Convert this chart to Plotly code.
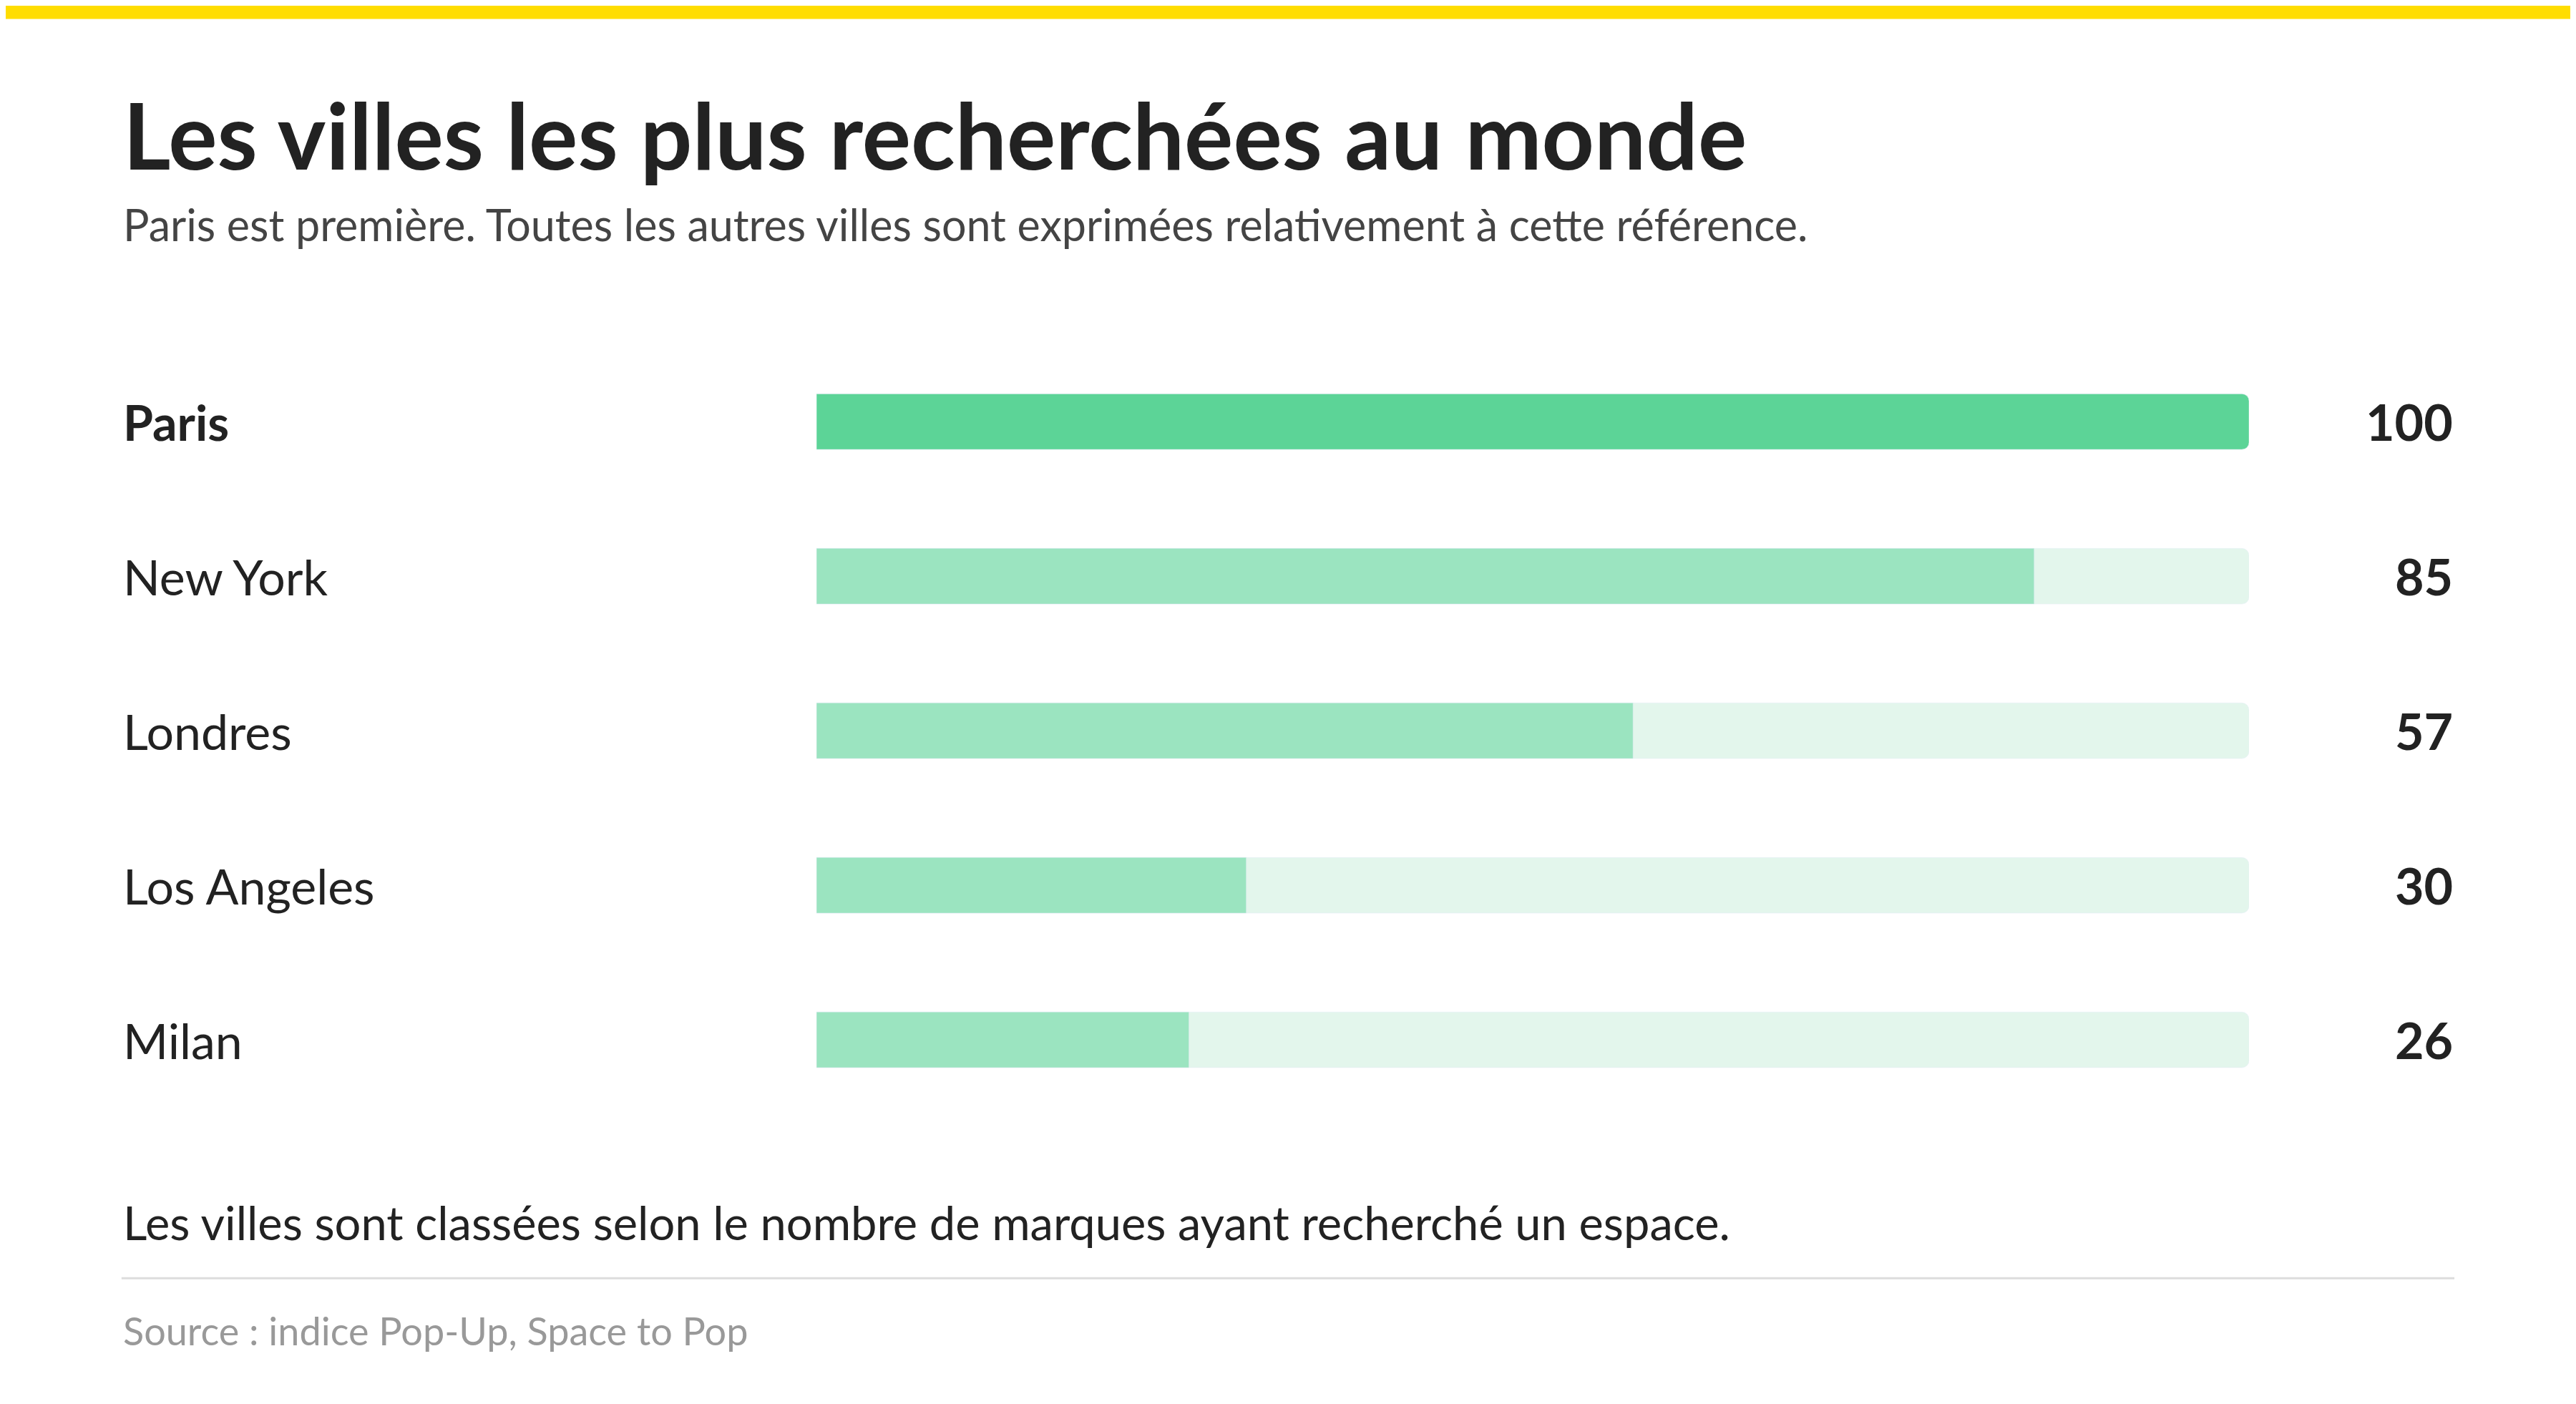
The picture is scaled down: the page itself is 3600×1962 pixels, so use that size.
import plotly.graph_objects as go

cities = ["Paris", "New York", "Londres", "Los Angeles", "Milan"]
values = [100, 85, 57, 30, 26]
bar_colors = ["#5cd497", "#9be4c0", "#9be4c0", "#9be4c0", "#9be4c0"]

H = 854.0
def fy(px):
    return 1 - (px - 4) / H
def fx(px):
    return (px - 3.5) / 1568.0

fig = go.Figure()
fig.add_trace(go.Bar(x=[100] * len(cities), y=cities, orientation="h",
                     marker=dict(color="#e3f6ec", cornerradius=10),
                     width=0.36, hoverinfo="skip"))
fig.add_trace(go.Bar(x=values, y=cities, orientation="h",
                     marker=dict(color=bar_colors, cornerradius=10),
                     width=0.36))

font = "Lato"
for i, (c, v) in enumerate(zip(cities, values)):
    fig.add_annotation(x=fx(74), xref="paper", y=c, yref="y", text=("<b>%s</b>" % c) if i == 0 else c,
                       showarrow=False, xanchor="left", yanchor="middle",
                       font=dict(family=font, size=68, color="#222"))
    fig.add_annotation(x=fx(1494), xref="paper", y=c, yref="y", text="<b>%d</b>" % v,
                       showarrow=False, xanchor="right", yanchor="middle",
                       font=dict(family=font, size=70, color="#222"))

texts = [
    ("<b>Les villes les plus recherchées au monde</b>", 82, 128, "#222"),
    ("Paris est première. Toutes les autres villes sont exprimées relativement à cette référence.", 137, 61, "#444"),
    ("Les villes sont classées selon le nombre de marques ayant recherché un espace.", 744, 65, "#222"),
    ("Source : indice Pop-Up, Space to Pop", 810, 54, "#999"),
]
for t, y, s, col in texts:
    fig.add_annotation(x=fx(74), xref="paper", y=fy(y), yref="paper", text=t, showarrow=False,
                       xanchor="left", yanchor="middle", font=dict(family=font, size=s, color=col))

fig.add_shape(type="rect", xref="paper", yref="paper", x0=0, x1=1, y0=fy(12), y1=1.01,
              fillcolor="#ffdd00", line_width=0)
fig.add_shape(type="line", xref="paper", yref="paper", x0=fx(74), x1=fx(1494), y0=fy(778), y1=fy(778),
              line=dict(color="#dddddd", width=3))

fig.update_layout(
    width=3600, height=1962, margin=dict(l=0, r=0, t=0, b=0),
    paper_bgcolor="white", plot_bgcolor="white", barmode="overlay", showlegend=False,
    xaxis=dict(domain=[fx(497), fx(1369)], range=[0, 100], visible=False),
    yaxis=dict(domain=[fy(680), fy(210)], range=[4.5, -0.5], visible=False,
               categoryorder="array", categoryarray=cities),
)
fig.write_html("out.html")
